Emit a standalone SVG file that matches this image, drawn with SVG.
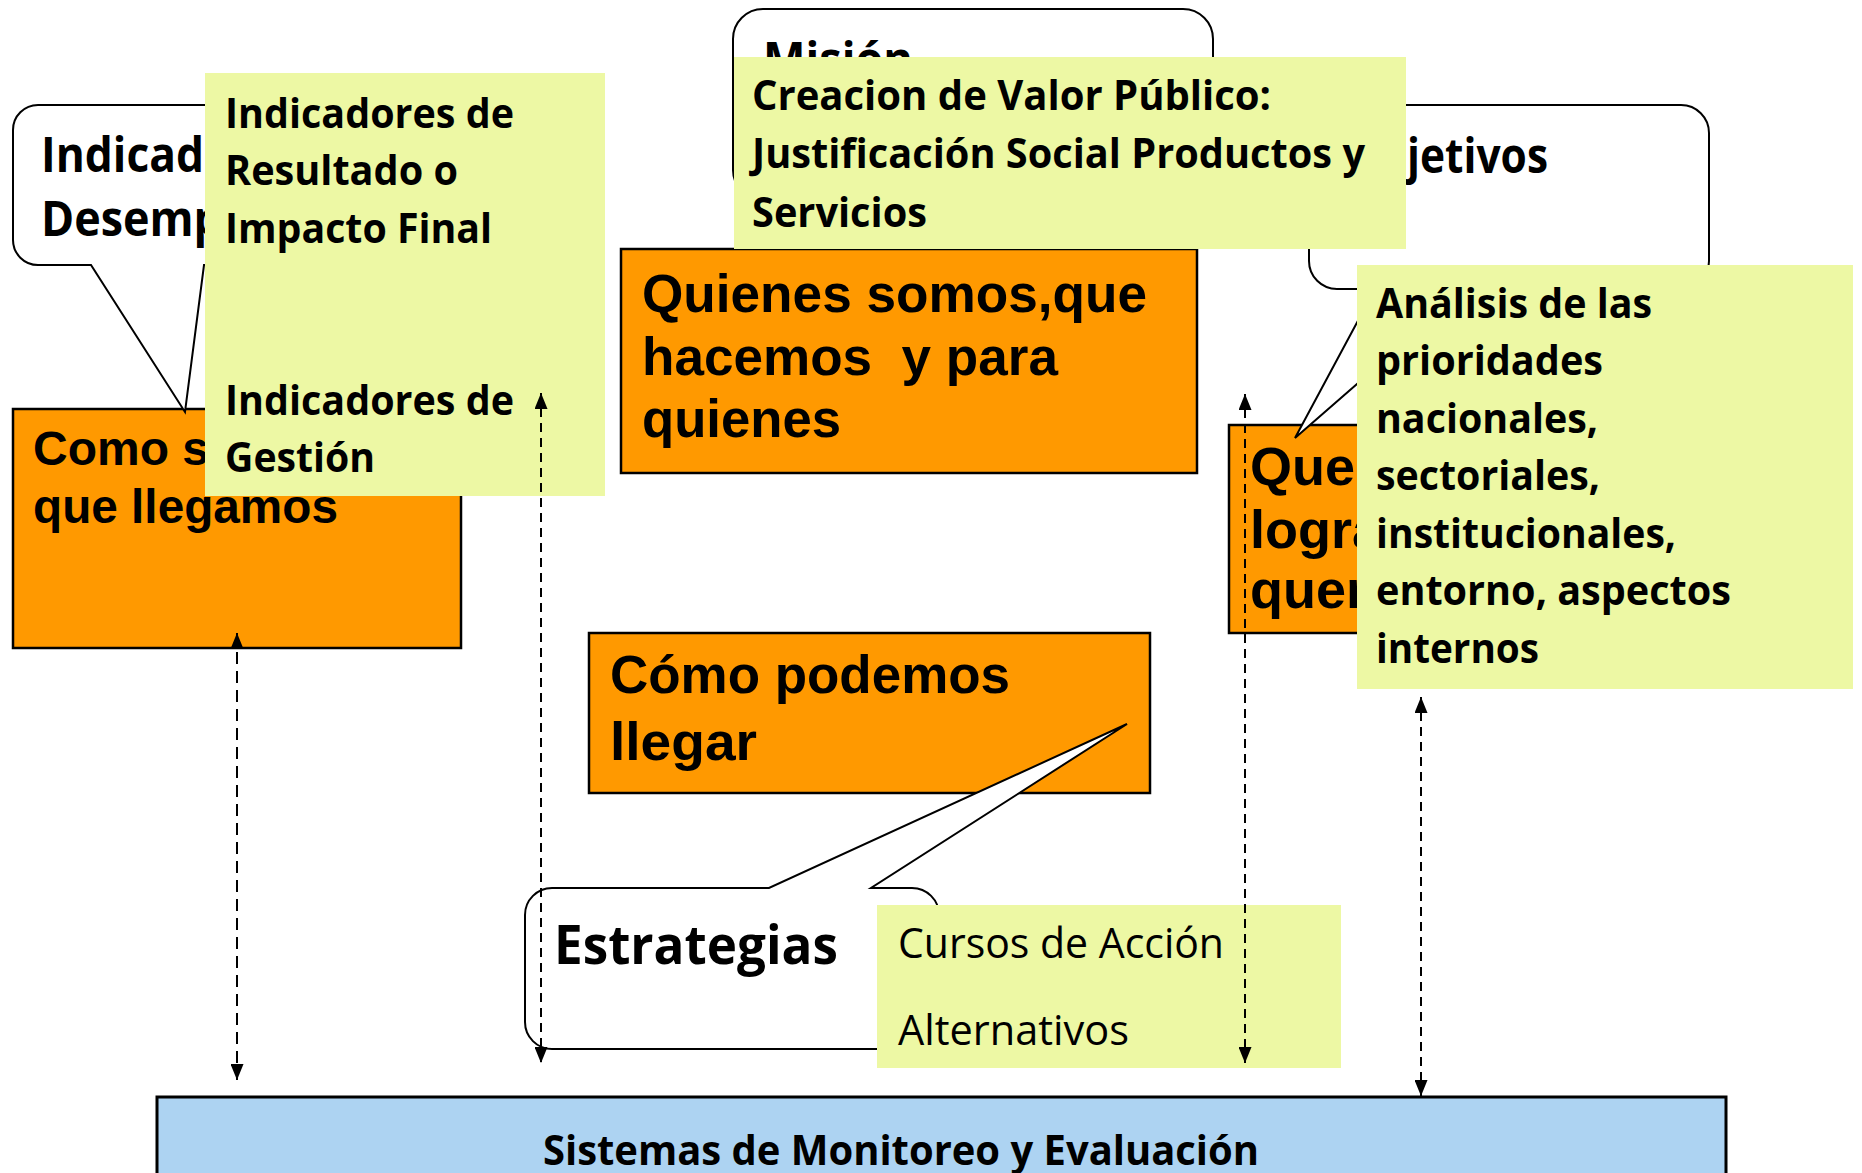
<svg xmlns="http://www.w3.org/2000/svg" width="1862" height="1173" viewBox="0 0 1862 1173">
<defs>
<style>
.orange{fill:#FF9900;stroke:#000;stroke-width:2.5}
.yellow{fill:#EDF8A4;stroke:none}
.callout{fill:#fff;stroke:#000;stroke-width:2}
.blue{fill:#ADD3F2;stroke:#000;stroke-width:3}
.ob{font-family:"Open Sans","Noto Sans",sans-serif;font-weight:700;fill:#000}
.or{font-family:"Open Sans","Noto Sans",sans-serif;font-weight:400;fill:#000}
.ar{font-family:"Liberation Sans",Arial,sans-serif;font-weight:700;fill:#000}
.s49{font-size:49px}
.s42{font-size:42px}
.s53{font-size:53px}
.s54{font-size:54px}
.s48{font-size:48px}
.conn{fill:none;stroke:#000;stroke-width:2}
</style>
<marker id="ah" viewBox="0 0 16 13" refX="16" refY="6.5" markerWidth="16" markerHeight="13" markerUnits="userSpaceOnUse" orient="auto-start-reverse">
<path d="M0,0 L16,6.5 L0,13 Z" fill="#000"/>
</marker>
</defs>
<rect width="1862" height="1173" fill="#fff"/>

<g id="node-como-sabemos">
<rect class="orange" x="13" y="409" width="448" height="239"/>
<text class="ar s48" x="33" y="465">Como s</text>
<text class="ar s48" x="33" y="523" textLength="305" lengthAdjust="spacingAndGlyphs">que llegamos</text>
</g>

<g id="node-indicadores-desempeno">
<path class="callout" d="M38,105 H415 A25,25 0 0 1 440,130 V240 A25,25 0 0 1 415,265 H204 L185,412 L91,265 H38 A25,25 0 0 1 13,240 V130 A25,25 0 0 1 38,105 Z"/>
<text class="ob s49" x="41" y="172" textLength="163" lengthAdjust="spacingAndGlyphs">Indicad</text>
<text class="ob s49" x="41" y="236" textLength="181" lengthAdjust="spacingAndGlyphs">Desemp</text>
</g>

<g id="node-indicadores-resultado">
<rect class="yellow" x="205" y="73" width="400" height="423"/>
<text class="ob s42" x="225" y="128" textLength="289" lengthAdjust="spacingAndGlyphs">Indicadores de</text>
<text class="ob s42" x="225" y="185" textLength="233" lengthAdjust="spacingAndGlyphs">Resultado o</text>
<text class="ob s42" x="225" y="243" textLength="267" lengthAdjust="spacingAndGlyphs">Impacto Final</text>
<text class="ob s42" x="225" y="415" textLength="289" lengthAdjust="spacingAndGlyphs">Indicadores de</text>
<text class="ob s42" x="225" y="472" textLength="150" lengthAdjust="spacingAndGlyphs">Gestión</text>
</g>

<g id="node-mision">
<path class="callout" d="M763,9 H1183 A30,30 0 0 1 1213,39 V170 A30,30 0 0 1 1183,200 H763 A30,30 0 0 1 733,170 V39 A30,30 0 0 1 763,9 Z"/>
<text class="ob s49" x="763" y="77" textLength="150" lengthAdjust="spacingAndGlyphs">Misión</text>
</g>

<g id="node-quienes">
<rect class="orange" x="621" y="249" width="576" height="224"/>
<text class="ar s54" x="642" y="312" textLength="505" lengthAdjust="spacingAndGlyphs">Quienes somos,que</text>
<text class="ar s54" x="642" y="375" textLength="416" lengthAdjust="spacingAndGlyphs" xml:space="preserve">hacemos  y para</text>
<text class="ar s54" x="642" y="437" textLength="199" lengthAdjust="spacingAndGlyphs">quienes</text>
</g>

<g id="node-que-lograr">
<rect class="orange" x="1229" y="425" width="300" height="208"/>
<text class="ar s54" x="1250" y="485">Que</text>
<text class="ar s54" x="1250" y="548">logra</text>
<text class="ar s54" x="1250" y="608">quer</text>
</g>

<g id="node-objetivos">
<path class="callout" d="M1337,105 H1681 A28,28 0 0 1 1709,133 V261 A28,28 0 0 1 1681,289 H1466 L1295,438 L1375,289 H1337 A28,28 0 0 1 1309,261 V133 A28,28 0 0 1 1337,105 Z"/>
<text class="ob s49" x="1407" y="173" textLength="141" lengthAdjust="spacingAndGlyphs">jetivos</text>
</g>

<g id="node-valor-publico">
<rect class="yellow" x="734" y="57" width="672" height="192"/>
<text class="ob s42" x="752" y="110" textLength="519" lengthAdjust="spacingAndGlyphs">Creacion de Valor Público:</text>
<text class="ob s42" x="752" y="168" textLength="613" lengthAdjust="spacingAndGlyphs">Justificación Social Productos y</text>
<text class="ob s42" x="752" y="227" textLength="175" lengthAdjust="spacingAndGlyphs">Servicios</text>
</g>

<g id="node-analisis">
<rect class="yellow" x="1357" y="265" width="496" height="424"/>
<text class="ob s42" x="1376" y="318" textLength="276" lengthAdjust="spacingAndGlyphs">Análisis de las</text>
<text class="ob s42" x="1376" y="375" textLength="227" lengthAdjust="spacingAndGlyphs">prioridades</text>
<text class="ob s42" x="1376" y="433" textLength="222" lengthAdjust="spacingAndGlyphs">nacionales,</text>
<text class="ob s42" x="1376" y="490" textLength="224" lengthAdjust="spacingAndGlyphs">sectoriales,</text>
<text class="ob s42" x="1376" y="548" textLength="300" lengthAdjust="spacingAndGlyphs">institucionales,</text>
<text class="ob s42" x="1376" y="605" textLength="355" lengthAdjust="spacingAndGlyphs">entorno, aspectos</text>
<text class="ob s42" x="1376" y="663" textLength="163" lengthAdjust="spacingAndGlyphs">internos</text>
</g>

<g id="node-como-llegar">
<rect class="orange" x="589" y="633" width="561" height="160"/>
<text class="ar s54" x="610" y="693" textLength="400" lengthAdjust="spacingAndGlyphs">Cómo podemos</text>
<text class="ar s54" x="610" y="760" textLength="147" lengthAdjust="spacingAndGlyphs">llegar</text>
</g>

<g id="node-estrategias">
<path class="callout" d="M552,888 H769 L1127,724 L871,888 H912 A27,27 0 0 1 939,915 V1022 A27,27 0 0 1 912,1049 H552 A27,27 0 0 1 525,1022 V915 A27,27 0 0 1 552,888 Z"/>
<text class="ob s53" x="554" y="964" textLength="284" lengthAdjust="spacingAndGlyphs">Estrategias</text>
</g>

<g id="node-cursos">
<rect class="yellow" x="877" y="905" width="464" height="163"/>
<text class="or s42" x="898" y="958" textLength="326" lengthAdjust="spacingAndGlyphs">Cursos de Acción</text>
<text class="or s42" x="898" y="1045" textLength="231" lengthAdjust="spacingAndGlyphs">Alternativos</text>
</g>

<g id="node-monitoreo">
<rect class="blue" x="157" y="1097" width="1569" height="100"/>
<text class="ob s42" x="543" y="1165" textLength="716" lengthAdjust="spacingAndGlyphs">Sistemas de Monitoreo y Evaluación</text>
</g>

<g id="connectors">
<line class="conn" x1="237" y1="633" x2="237" y2="1080" stroke-dasharray="12 7" marker-start="url(#ah)" marker-end="url(#ah)"/>
<line class="conn" x1="541" y1="393" x2="541" y2="1063" stroke-dasharray="9 6" marker-start="url(#ah)" marker-end="url(#ah)"/>
<line class="conn" x1="1245" y1="394" x2="1245" y2="1063" stroke-dasharray="9 6" marker-start="url(#ah)" marker-end="url(#ah)"/>
<line class="conn" x1="1421" y1="697" x2="1421" y2="1096" stroke-dasharray="9 6" marker-start="url(#ah)" marker-end="url(#ah)"/>
</g>
</svg>
